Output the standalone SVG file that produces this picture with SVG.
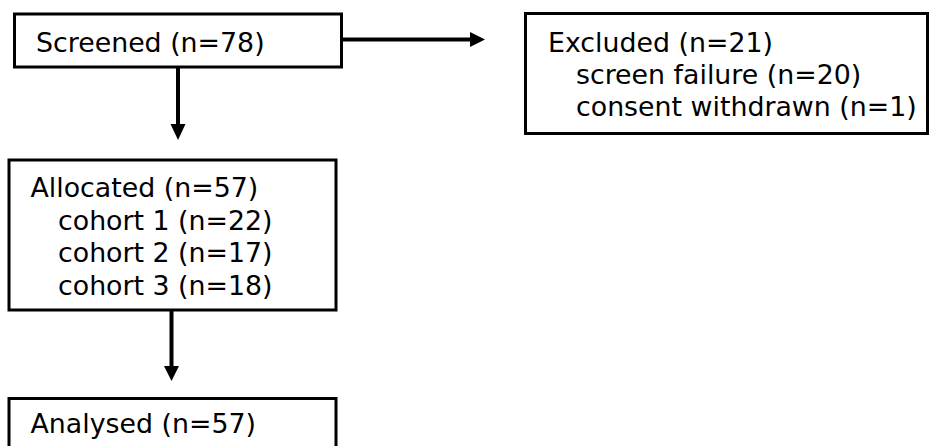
<svg xmlns="http://www.w3.org/2000/svg" width="930" height="446" viewBox="0 0 930 446">
<defs>
<style>
.box{fill:#fff;stroke:#000;stroke-width:3}
.t{font-family:"DejaVu Sans","Verdana",sans-serif;font-size:26.8px;fill:#000}
.c{stroke:#000;stroke-width:4;fill:none}
</style>
</defs>
<rect width="930" height="446" fill="#fff"/>
<g id="connectors">
<line class="c" x1="178" y1="68" x2="178" y2="125"/>
<path d="M170.5,124 L185.5,124 L178,140 Z" fill="#000"/>
<line class="c" x1="343" y1="39.5" x2="472" y2="39.5"/>
<path d="M470,32 L470,47 L485,39.5 Z" fill="#000"/>
<line class="c" x1="171.5" y1="311" x2="171.5" y2="368"/>
<path d="M164,366 L179,366 L171.5,381 Z" fill="#000"/>
</g>
<g id="screened">
<rect class="box" x="14.5" y="14" width="327" height="53"/>
<text class="t" x="36" y="52">Screened (n=78)</text>
</g>
<g id="excluded">
<rect class="box" x="525.5" y="13.5" width="402" height="120"/>
<text class="t" x="548" y="52">Excluded (n=21)</text>
<text class="t" x="576" y="84">screen failure (n=20)</text>
<text class="t" x="576" y="116">consent withdrawn (n=1)</text>
</g>
<g id="allocated">
<rect class="box" x="9" y="160" width="327" height="150"/>
<text class="t" x="30.5" y="197">Allocated (n=57)</text>
<text class="t" x="58" y="229.5">cohort 1 (n=22)</text>
<text class="t" x="58" y="262">cohort 2 (n=17)</text>
<text class="t" x="58" y="294.5">cohort 3 (n=18)</text>
</g>
<g id="analysed">
<rect class="box" x="9" y="398.5" width="327" height="70"/>
<text class="t" x="30.5" y="433">Analysed (n=57)</text>
</g>
</svg>
